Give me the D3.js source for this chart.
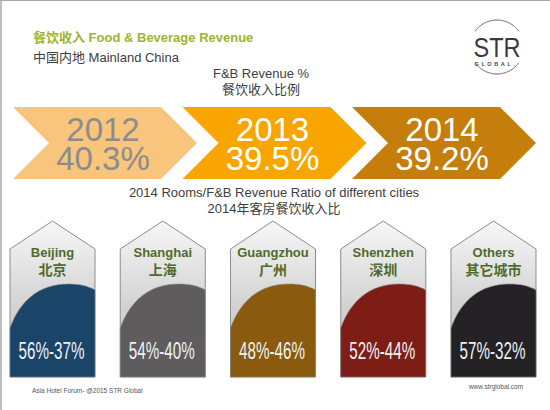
<!DOCTYPE html>
<html>
<head>
<meta charset="utf-8">
<script src="https://d3js.org/d3.v7.min.js"></script>
<style>
    body { margin: 0; background: #fff; }
    text { font-family: "Liberation Sans", Arial, "Noto Sans CJK SC", sans-serif; }
</style>
</head>
<body>
<div class="diagram"></div>
<script>
    // 数据
    var years = ["2012", "2013", "2014"];
    var fbShare = [40.3, 39.5, 39.2];
    var cities = ["Beijing", "Shanghai", "Guangzhou", "Shenzhen", "Others"];
    var citiesZh = ["北京", "上海", "广州", "深圳", "其它城市"];
    var roomsShare = [56, 54, 48, 52, 57];
    var fbRatio = [37, 40, 46, 44, 32];

    var chevronFill = ["#f9c57d", "#f8a500", "#c57e0c"];
    var chevronText = ["#8c8c8c", "#ffffff", "#ffffff"];
    var cityFill = ["#1a4468", "#5f5c5e", "#8a5a0e", "#7d1d16", "#252225"];

    var w = 550, h = 410;

    var svg = d3.select("div.diagram")
        .append("svg")
        .attr("width", w)
        .attr("height", h);

    svg.append("rect").attr("width", w).attr("height", h).attr("fill", "#fff");
    // 边框
    svg.append("line").attr("x1", 1).attr("y1", 0).attr("x2", 1).attr("y2", h)
        .attr("stroke", "#a8a8a8").attr("stroke-width", 1.5);
    svg.append("line").attr("x1", 0).attr("y1", 0.5).attr("x2", w).attr("y2", 0.5)
        .attr("stroke", "#a8a8a8").attr("stroke-width", 1);

    // 标题
    svg.append("text").attr("x", 33).attr("y", 42)
        .attr("font-size", "13px").attr("font-weight", "bold").attr("fill", "#9db52e")
        .text("餐饮收入 Food & Beverage Revenue");
    svg.append("text").attr("x", 33).attr("y", 62)
        .attr("font-size", "13px").attr("fill", "#404040")
        .text("中国内地 Mainland China");
    svg.append("text").attr("x", 261).attr("y", 78).attr("text-anchor", "middle")
        .attr("font-size", "13px").attr("fill", "#404040")
        .text("F&B Revenue %");
    svg.append("text").attr("x", 261).attr("y", 94).attr("text-anchor", "middle")
        .attr("font-size", "13px").attr("fill", "#404040")
        .text("餐饮收入比例");

    // STR logo
    var logo = svg.append("g").attr("transform", "translate(497,47)");
    var arc = d3.arc().innerRadius(27).outerRadius(27);
    logo.append("path").attr("d", arc({startAngle: -0.95, endAngle: 0.95}))
        .attr("fill", "none").attr("stroke", "#8a8a8a").attr("stroke-width", 0.8);
    logo.append("path").attr("d", arc({startAngle: Math.PI - 0.95, endAngle: Math.PI + 0.95}))
        .attr("fill", "none").attr("stroke", "#8a8a8a").attr("stroke-width", 0.8);
    logo.append("text").attr("x", 0).attr("y", 10).attr("text-anchor", "middle")
        .attr("font-size", "28px").attr("fill", "#3a3a3a")
        .attr("textLength", 47).attr("lengthAdjust", "spacingAndGlyphs")
        .text("STR");
    logo.append("text").attr("x", -1).attr("y", 19).attr("text-anchor", "middle")
        .attr("font-size", "5.5px").attr("font-weight", "bold").attr("fill", "#4a4a4a")
        .attr("letter-spacing", "2.6px")
        .text("GLOBAL.");

    // 箭头
    var xChev = d3.scalePoint().domain(years).range([13, 352]);
    var cw = 184, ctop = 107, cbot = 179, depth = 36;
    var cmid = (ctop + cbot) / 2;

    svg.selectAll("path.chev")
        .data(years)
        .enter()
        .append("path")
        .attr("class", "chev")
        .attr("d", function(d) {
            var x = xChev(d);
            return "M" + x + "," + ctop +
                "L" + (x + cw - depth) + "," + ctop +
                "L" + (x + cw) + "," + cmid +
                "L" + (x + cw - depth) + "," + cbot +
                "L" + x + "," + cbot +
                "L" + (x + depth) + "," + cmid + "Z";
        })
        .attr("fill", function(d, i) { return chevronFill[i]; });

    svg.selectAll("text.year")
        .data(years)
        .enter()
        .append("text")
        .attr("class", "year")
        .attr("text-anchor", "middle")
        .attr("x", function(d) { return xChev(d) + cw / 2 - 2; })
        .attr("y", 141)
        .attr("font-size", "33px")
        .attr("fill", function(d, i) { return chevronText[i]; })
        .text(function(d) { return d; });

    svg.selectAll("text.share")
        .data(fbShare)
        .enter()
        .append("text")
        .attr("class", "share")
        .attr("text-anchor", "middle")
        .attr("x", function(d, i) { return xChev(years[i]) + cw / 2 - 2; })
        .attr("y", 170)
        .attr("font-size", "33px")
        .attr("fill", function(d, i) { return chevronText[i]; })
        .text(function(d) { return d.toFixed(1) + "%"; });

    svg.append("text").attr("x", 274).attr("y", 197).attr("text-anchor", "middle")
        .attr("font-size", "13px").attr("fill", "#404040")
        .text("2014 Rooms/F&B Revenue Ratio of different cities");
    svg.append("text").attr("x", 274).attr("y", 213).attr("text-anchor", "middle")
        .attr("font-size", "13px").attr("fill", "#404040")
        .text("2014年客房餐饮收入比");

    // 城市
    var xCity = d3.scaleBand().domain(cities).range([10, 536]).paddingInner(0.229);
    var bw = xCity.bandwidth();
    var apex = 221, shoulder = 249, bottom = 377;

    var defs = svg.append("defs");
    var grad = defs.append("linearGradient").attr("id", "penta")
        .attr("x1", 0).attr("y1", 0).attr("x2", 0).attr("y2", 1);
    grad.append("stop").attr("offset", "0%").attr("stop-color", "#f7f7f7");
    grad.append("stop").attr("offset", "55%").attr("stop-color", "#d2d2d2");
    grad.append("stop").attr("offset", "100%").attr("stop-color", "#c8c8c8");

    var pent = svg.selectAll("g.city")
        .data(cities)
        .enter()
        .append("g")
        .attr("class", "city");

    pent.append("path")
        .attr("d", function(d) {
            var x = xCity(d);
            return "M" + x + "," + bottom +
                "L" + x + "," + shoulder +
                "L" + (x + bw / 2) + "," + apex +
                "L" + (x + bw) + "," + shoulder +
                "L" + (x + bw) + "," + bottom + "Z";
        })
        .attr("fill", "url(#penta)")
        .attr("stroke", "#8c8c8c")
        .attr("stroke-width", 1);

    pent.append("path")
        .attr("d", function(d) {
            var x = xCity(d);
            return "M" + x + "," + bottom +
                "L" + x + ",328" +
                "C" + (x + 10) + ",300 " + (x + 30) + ",284 " + (x + 58) + ",284" +
                "C" + (x + 70) + ",284 " + (x + 78) + ",286 " + (x + bw) + ",290" +
                "L" + (x + bw) + "," + bottom + "Z";
        })
        .attr("fill", function(d, i) { return cityFill[i]; })
        .attr("stroke", "#8c8c8c")
        .attr("stroke-width", 0.6);

    pent.append("text")
        .attr("text-anchor", "middle")
        .attr("x", function(d) { return xCity(d) + bw / 2; })
        .attr("y", 257)
        .attr("font-size", "13px")
        .attr("font-weight", "bold")
        .attr("fill", "#4f6b2b")
        .text(function(d) { return d; });

    pent.append("text")
        .attr("text-anchor", "middle")
        .attr("x", function(d) { return xCity(d) + bw / 2; })
        .attr("y", 275)
        .attr("font-size", "14px")
        .attr("font-weight", "bold")
        .attr("fill", "#4f6b2b")
        .text(function(d, i) { return citiesZh[i]; });

    pent.append("text")
        .attr("text-anchor", "middle")
        .attr("x", function(d) { return xCity(d) + bw / 2 - 1; })
        .attr("y", 359)
        .attr("font-family", "'Liberation Sans Narrow', 'DejaVu Sans Condensed', sans-serif")
        .attr("font-size", "24px")
        .attr("fill", "#eef2f5")
        .attr("textLength", 66)
        .attr("lengthAdjust", "spacingAndGlyphs")
        .text(function(d, i) { return roomsShare[i] + "%-" + fbRatio[i] + "%"; });

    // 页脚
    svg.append("text").attr("x", 32).attr("y", 393)
        .attr("font-size", "6.5px").attr("fill", "#555")
        .text("Asia Hotel Forum- @2015 STR Global");
    svg.append("text").attr("x", 496).attr("y", 389).attr("text-anchor", "middle")
        .attr("font-size", "6.5px").attr("fill", "#555")
        .text("www.strglobal.com");
</script>
</body>
</html>
